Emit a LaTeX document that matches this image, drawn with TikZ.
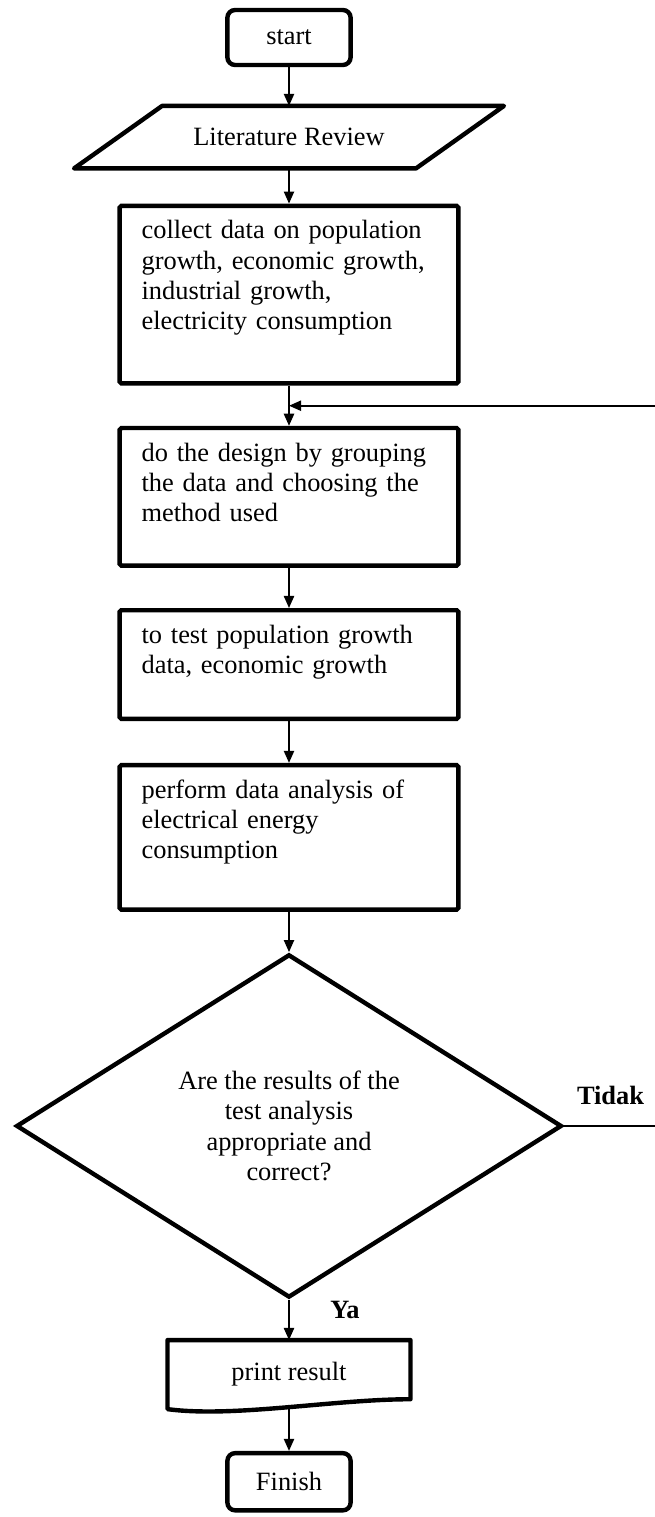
\documentclass[tikz,border=0pt]{standalone}
\usepackage{fontspec}
\setmainfont{Liberation Serif}
\usepackage{tikz}
\usetikzlibrary{
  shapes.geometric, arrows.meta, positioning, calc
}

\begin{document}
\begin{tikzpicture}[
    x=0.4545pt, y=-0.4545pt,
    node distance=18.3pt,
    font=\fontsize{12}{13.8}\selectfont,
    >={Triangle[length=5.5pt, width=4.6pt]},
    terminal/.style={rectangle, draw, line width=2pt, rounded corners=3.5pt, minimum width=56pt, minimum height=#1, align=center},
    io/.style={rectangle, minimum width=155pt, minimum height=28pt},
    process/.style={rectangle, draw, line width=2pt, rounded corners=0.8pt, text width=134pt, inner xsep=10pt, inner ysep=6pt, align=left, text height=9pt, text depth=#1},
    decision/.style={diamond, draw, line width=2pt, aspect=1.6, minimum width=248pt, minimum height=156pt, inner sep=0pt, align=center},
    outline/.style={line width=2pt, line join=round},
    arrow/.style={->, line width=0.9pt},
    answer/.style={font=\fontsize{12}{13.8}\selectfont\bfseries},
]
    \useasboundingbox (0,0) rectangle (655,1517);

    % Start
    \node[terminal=25pt] (start) at (289,37.5) {start};

    % Input
    \node[io, below=17.6pt of start] (review) {Literature Review};
    \draw[outline] ([xshift=-20pt]review.south west) -- ([xshift=20pt]review.north west) -- ([xshift=20pt]review.north east) -- ([xshift=-20pt]review.south east) -- cycle;

    % Steps
    \node[process=59.7pt, below=16pt of review] (collect) {collect data on population\\growth, economic growth,\\industrial growth,\\electricity consumption};
    \node[process=41.5pt, below=of collect] (design) {do the design by grouping\\the data and choosing the\\method used};
    \node[process=28.4pt, below=of design] (testdata) {to test population growth\\data, economic growth};
    \node[process=44.7pt, below=19pt of testdata] (analysis) {perform data analysis of\\electrical energy\\consumption};

    % Decision
    \node[decision, below=of analysis] (check) {Are the results of the\\test analysis\\appropriate and\\correct?};

    % Output
    \node[rectangle, minimum width=110pt, minimum height=31pt, below=of check] (print) {print result};
    \draw[outline] (print.south west) -- (print.north west) -- (print.north east) -- ([yshift=4.5pt]print.south east) .. controls +(-35pt,0pt) and +(30pt,-4pt) .. (print.south west) -- cycle;

    % Finish
    \node[terminal=26pt, below=19pt of print] (finish) {Finish};

    \coordinate (merge) at ($(collect.south)!0.5!(design.north)$);
    \coordinate (edge) at (657,0);

    % Arrows
    \draw[arrow] (start) -- (review);
    \draw[arrow] (review) -- (collect);
    \draw[arrow] (collect) -- (design);
    \draw[arrow] (design) -- (testdata);
    \draw[arrow] (testdata) -- (analysis);
    \draw[arrow] (analysis) -- (check);
    \draw[arrow] (check) -- node[answer, pos=0.25, right=15pt] {Ya} (print);
    \draw[arrow] (print.south) -- (finish);
    \draw[arrow] (check.east) -- node[answer, above=6pt] {Tidak} (check.east -| edge) |- (merge);

\end{tikzpicture}
\end{document}
